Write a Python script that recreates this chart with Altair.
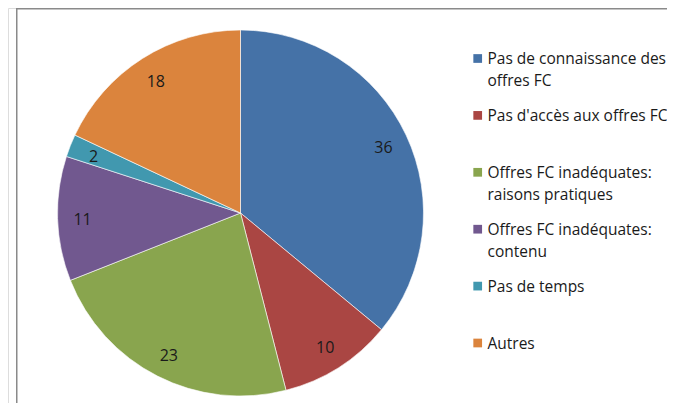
import altair as alt
import pandas as pd

categories = [
    "Pas de connaissance des offres FC",
    "Pas d'accès aux offres FC",
    "Offres FC inadéquates: raisons pratiques",
    "Offres FC inadéquates: contenu",
    "Pas de temps",
    "Autres",
]
legend_labels = [
    "Pas de connaissance des\noffres FC",
    "Pas d'accès aux offres FC",
    "Offres FC inadéquates:\nraisons pratiques",
    "Offres FC inadéquates:\ncontenu",
    "Pas de temps",
    "Autres",
]
values = [36, 10, 23, 11, 2, 18]
colors = ["#4572A7", "#AA4643", "#89A54E", "#71588F", "#4198AF", "#DB843D"]

df = pd.DataFrame({
    "category": categories,
    "label": legend_labels,
    "value": values,
    "order": list(range(len(categories))),
})

FONT = "Open Sans"
W, H = 659, 395
CX, CY, R = 232.5, 205, 183

color = alt.Color("category:N", scale=alt.Scale(domain=categories, range=colors), legend=None)

base = alt.Chart(df)

pie = base.mark_arc(outerRadius=R, stroke="#ffffff", strokeWidth=0.6).encode(
    theta=alt.Theta("value:Q", stack=True),
    color=color,
    order=alt.Order("order:Q"),
    x=alt.value(CX),
    y=alt.value(CY),
)

pie_labels = base.mark_text(radius=158, font=FONT, fontSize=16, color="#1a1a1a", dy=2).encode(
    theta=alt.Theta("value:Q", stack=True),
    order=alt.Order("order:Q"),
    text=alt.Text("value:Q"),
    x=alt.value(CX),
    y=alt.value(CY),
)

ypos = alt.Y("category:N", sort=categories, axis=None,
             scale=alt.Scale(type="point", range=[50.5, 335], padding=0))

leg_sym = base.mark_point(shape="square", filled=True, size=76, opacity=1).encode(
    y=ypos,
    x=alt.value(469.7),
    color=color,
)

leg_txt = base.mark_text(align="left", baseline="top", dy=-6.3, lineBreak="\n",
                         lineHeight=22, font=FONT, fontSize=15.5, color="#1a1a1a").encode(
    y=ypos,
    x=alt.value(479.5),
    text="label:N",
)

frame_df = pd.DataFrame({"a": [0]})
left_line = alt.Chart(frame_df).mark_rule(color="#8a8a8a", strokeWidth=1.5).encode(
    x=alt.value(8.75), y=alt.value(0), y2=alt.value(H)
)
top_line = alt.Chart(frame_df).mark_rule(color="#8a8a8a", strokeWidth=1.5).encode(
    x=alt.value(8), x2=alt.value(W), y=alt.value(0.75)
)

chart = alt.layer(left_line, top_line, pie, pie_labels, leg_sym, leg_txt).properties(
    width=W, height=H, padding=0, autosize=alt.AutoSizeParams(type="none")
).configure_view(stroke=None).configure(background="#ffffff")

chart.save("out.html", embed_options={"renderer": "svg", "actions": False})
